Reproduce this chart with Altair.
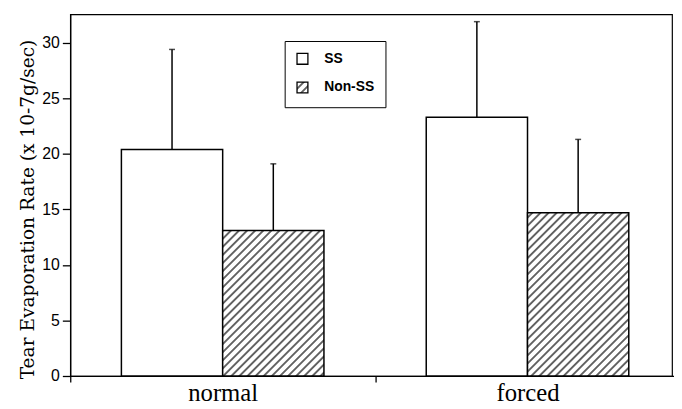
import altair as alt
import pandas as pd
import jinja2

# ---- data ----
conditions = ["normal", "normal", "forced", "forced"]
groups = ["SS", "Non-SS", "SS", "Non-SS"]
means = [20.4, 13.1, 23.3, 14.7]
uppers = [29.4, 19.1, 31.9, 21.3]
y_ticks = [0, 5, 10, 15, 20, 25, 30]
cond_order = ["normal", "forced"]
group_order = ["SS", "Non-SS"]

df = pd.DataFrame({"condition": conditions, "group": groups, "mean": means, "upper": uppers})

x_enc = alt.X(
    "condition:N",
    sort=cond_order,
    scale=alt.Scale(range=[0, 617], paddingInner=0, paddingOuter=0),
    axis=alt.Axis(
        title=None,
        labelFont="Liberation Serif",
        labelFontSize=25,
        labelColor="black",
        labelBaseline="alphabetic",
        labelPadding=19,
        labelAngle=0,
        tickSize=6,
        tickColor="black",
        tickWidth=1.3,
        tickBand="extent",
        domainColor="black",
        domainWidth=1.3,
        grid=False,
    ),
)
xo_enc = alt.XOffset("group:N", sort=group_order,
                     scale=alt.Scale(paddingInner=0, paddingOuter=0.505))
y_scale = alt.Scale(domain=[0, 32.56], nice=False, zero=True)

bars = alt.Chart(df).mark_bar(stroke="black", strokeWidth=1.5).encode(
    x=x_enc,
    xOffset=xo_enc,
    y=alt.Y(
        "mean:Q",
        scale=y_scale,
        axis=alt.Axis(
            title="Tear Evaporation Rate (x 10-7g/sec)",
            titleFont="DejaVu Serif",
            titleFontSize=18.8,
            titleFontWeight="normal",
            titleColor="black",
            titleX=-37,
            titleY=197,
            titleBaseline="alphabetic",
            values=y_ticks,
            labelFont="Liberation Sans",
            labelFontSize=16,
            labelColor="black",
            labelPadding=3,
            tickSize=8,
            tickColor="black",
            tickWidth=1.3,
            domainColor="black",
            domainWidth=1.3,
            grid=False,
        ),
    ),
    fill=alt.Fill(
        "group:N",
        sort=group_order,
        scale=alt.Scale(domain=group_order, range=["white", "url(#hatch)"]),
        legend=alt.Legend(
            title=None,
            orient="none",
            legendX=217,
            legendY=27,
            fillColor="white",
            strokeColor="black",
            padding=11,
            rowPadding=11,
            symbolType="square",
            symbolSize=121,
            symbolStrokeColor="black",
            symbolStrokeWidth=1.3,
            labelFont="Liberation Sans",
            labelFontSize=14,
            labelFontWeight="bold",
            labelColor="black",
            labelOffset=15,
        ),
    ),
)

err = alt.Chart(df).mark_rule(color="black", strokeWidth=1.5).encode(
    x=alt.X("condition:N", sort=cond_order),
    xOffset=alt.XOffset("group:N", sort=group_order),
    y=alt.Y("mean:Q", scale=y_scale),
    y2="upper:Q",
)

caps = alt.Chart(df).mark_tick(color="black", thickness=1.5, size=6).encode(
    x=alt.X("condition:N", sort=cond_order),
    xOffset=alt.XOffset("group:N", sort=group_order),
    y=alt.Y("upper:Q", scale=y_scale),
)

chart = (
    alt.layer(bars, err, caps)
    .properties(
        width=609,
        height=366,
        background="white",
        padding={"left": 63, "top": 4, "right": 2, "bottom": 31},
        autosize=alt.AutoSizeParams(type="none"),
    )
    .configure_view(stroke="black", strokeWidth=1.2)
)

TEMPLATE = jinja2.Template(
    """<!DOCTYPE html>
<html>
<head>
  <style>
    #{{ output_div }}.vega-embed { width: 100%; display: flex; }
  </style>
  <script type="text/javascript" src="{{ base_url }}/vega@{{ vega_version }}"></script>
  <script type="text/javascript" src="{{ base_url }}/vega-lite@{{ vegalite_version }}"></script>
  <script type="text/javascript" src="{{ base_url }}/vega-embed@{{ vegaembed_version }}"></script>
</head>
<body>
  <svg width="0" height="0" style="position:absolute">
    <defs>
      <pattern id="hatch" patternUnits="userSpaceOnUse" width="5.8" height="5.8" patternTransform="rotate(45)">
        <rect x="0" y="0" width="5.8" height="5.8" fill="white"></rect>
        <line x1="2.9" y1="0" x2="2.9" y2="5.8" stroke="black" stroke-width="1.2"></line>
      </pattern>
    </defs>
  </svg>
  <div id="{{ output_div }}"></div>
  <script type="text/javascript">
    (function(vegaEmbed) {
      var spec = {{ spec }};
      var embedOpt = {{ embed_options }};
      vegaEmbed("#{{ output_div }}", spec, embedOpt).catch(console.error);
    })(vegaEmbed);
  </script>
</body>
</html>
"""
)

chart.save("out.html", embed_options={"renderer": "svg", "actions": False}, template=TEMPLATE)
